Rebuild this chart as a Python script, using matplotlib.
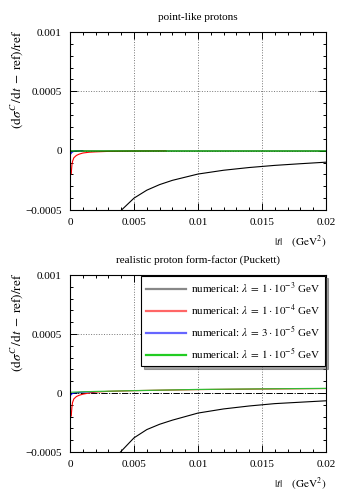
import matplotlib.pyplot as plt
from matplotlib.ticker import MultipleLocator, FixedLocator

plt.rcParams['font.family'] = ['Liberation Serif', 'DejaVu Serif']
plt.rcParams['mathtext.fontset'] = 'stix'
plt.rcParams['font.size'] = 8

# point-like protons
t_black_a = [0.0039, 0.005, 0.006, 0.007, 0.008, 0.01, 0.012, 0.014, 0.016, 0.018, 0.02]
v_black_a = [-0.000513, -0.0004, -0.000333, -0.000286, -0.00025, -0.000197, -0.000165,
             -0.000142, -0.000124, -0.00011, -0.000097]
t_red_a = [0.0001, 0.00012, 0.00015, 0.0002, 0.0003, 0.0005, 0.0007, 0.001, 0.0015,
           0.002, 0.003, 0.005, 0.0075]
v_red_a = [-0.000195, -0.00016, -0.00012, -0.00009, -0.00006, -0.00004, -0.00003,
           -0.00002, -0.000013, -0.00001, -0.000006, -0.000003, -0.000002]
t_blue_a = [0.00005, 0.0001, 0.0002, 0.0004, 0.001]
v_blue_a = [-0.00003, -0.00002, -0.00001, -0.000004, -0.000001]
t_green_a = [0.0, 0.02]
v_green_a = [0.0, 0.0]

# realistic proton form-factor
t_black_b = [0.0039, 0.005, 0.006, 0.007, 0.008, 0.01, 0.012, 0.014, 0.016, 0.018, 0.02]
v_black_b = [-0.000505, -0.00038, -0.00031, -0.000265, -0.00023, -0.00017, -0.000135,
             -0.00011, -0.00009, -0.000078, -0.000066]
t_red_b = [0.0001, 0.00012, 0.00015, 0.0002, 0.0003, 0.0005, 0.0007, 0.001, 0.0015,
           0.002, 0.003, 0.005, 0.01, 0.015, 0.02]
v_red_b = [-0.000195, -0.00016, -0.00012, -0.00008, -0.00005, -0.00003, -0.00002,
           -0.00001, 0.0, 0.000008, 0.000014, 0.00002, 0.000029, 0.000034, 0.000038]
t_blue_b = [0.00005, 0.0001, 0.0002, 0.0004, 0.001, 0.002]
v_blue_b = [-0.00002, -0.000012, -0.000004, 0.000002, 0.000008, 0.000012]
t_green_b = [0.0, 0.001, 0.002, 0.005, 0.01, 0.015, 0.02]
v_green_b = [0.000006, 0.00001, 0.000013, 0.00002, 0.00003, 0.000035, 0.000039]

labels = [r'numerical: $\lambda\;=\;1\cdot10^{-3}$ GeV',
          r'numerical: $\lambda\;=\;1\cdot10^{-4}$ GeV',
          r'numerical: $\lambda\;=\;3\cdot10^{-5}$ GeV',
          r'numerical: $\lambda\;=\;1\cdot10^{-5}$ GeV']
colors = ['black', '#ff0000', '#0000ff', '#33bb33']
ylab = r'$(\mathrm{d}\sigma^{C}\,/\mathrm{d}t\;-\;\mathrm{ref})/\mathrm{ref}$'

W, H = 342, 494
fig = plt.figure(figsize=(W / 100, H / 100), dpi=100)
ax1 = fig.add_axes([70 / W, 1 - 210 / H, 256 / W, 178 / H])
ax2 = fig.add_axes([70 / W, 1 - 452 / H, 256 / W, 177 / H])


def style(ax, title, label_top):
    ax.set_xlim(0, 0.02)
    ax.set_ylim(-0.0005, 0.001)
    ax.xaxis.set_major_locator(FixedLocator([0, 0.005, 0.01, 0.015, 0.02]))
    ax.set_xticklabels(['0', '0.005', '0.01', '0.015', '0.02'])
    ax.yaxis.set_major_locator(FixedLocator([-0.0005, 0, 0.0005, 0.001]))
    ax.set_yticklabels(['\u22120.0005', '0', '0.0005', '0.001'])
    ax.xaxis.set_minor_locator(MultipleLocator(0.001))
    ax.yaxis.set_minor_locator(MultipleLocator(0.0001))
    ax.tick_params(which='both', direction='in', top=True, right=True, width=0.7)
    ax.tick_params(which='major', length=5, pad=6)
    ax.tick_params(which='minor', length=2.5)
    ax.grid(True, which='major', linestyle=':', color='#777777', linewidth=0.7)
    for s in ax.spines.values():
        s.set_linewidth(0.8)
    ax.set_title(title, fontsize=8, pad=9)
    fig.text(17 / W, 1 - label_top / H, ylab, rotation=90, ha='center', va='top',
             fontsize=9.5)
    ax.set_xlabel(r'$|t|\quad\;(\mathrm{GeV}^2)$', loc='right', labelpad=4)


style(ax1, 'point-like protons', 30)
ax1.plot(t_black_a, v_black_a, color=colors[0], lw=0.8)
ax1.plot(t_red_a, v_red_a, color=colors[1], lw=0.8)
ax1.plot(t_blue_a, v_blue_a, color=colors[2], lw=0.8)
ax1.plot(t_green_a, v_green_a, color='#008a00', lw=1.1)

style(ax2, 'realistic proton form-factor (Puckett)', 273)
ax2.axhline(0, color='black', linestyle='-.', lw=0.7)
ax2.plot(t_black_b, v_black_b, color=colors[0], lw=0.8, label=labels[0])
ax2.plot(t_red_b, v_red_b, color=colors[1], lw=0.8, label=labels[1])
ax2.plot(t_blue_b, v_blue_b, color=colors[2], lw=0.8, label=labels[2])
ax2.plot(t_green_b, v_green_b, color=colors[3], lw=0.9, label=labels[3])

leg = ax2.legend(loc='upper right', frameon=True, fancybox=False, shadow=True,
                 edgecolor='black', borderaxespad=0.05, handlelength=3.6,
                 handletextpad=0.45, labelspacing=0.62, borderpad=0.45, fontsize=8)
leg.get_frame().set_linewidth(0.8)
for line, c in zip(leg.get_lines(), ['#888888', '#ff6666', '#6666ff', '#22cc22']):
    line.set_color(c)
    line.set_linewidth(1.6)
    line.set_alpha(1)

plt.savefig('out.png', dpi=100)
